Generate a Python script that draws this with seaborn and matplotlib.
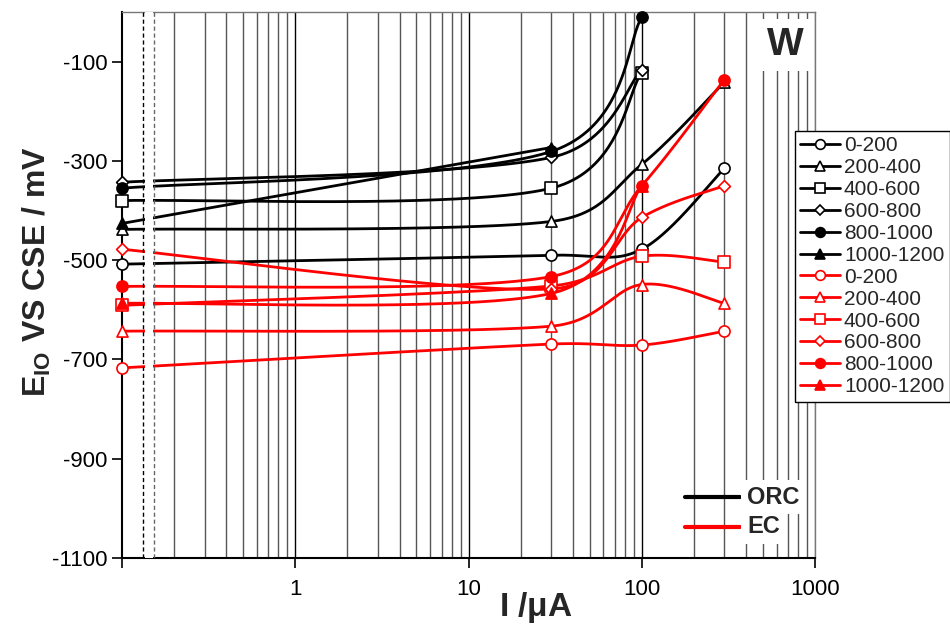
import numpy as np
import pandas as pd
import matplotlib
matplotlib.use("Agg")
import matplotlib.pyplot as plt
from matplotlib.lines import Line2D
from matplotlib.ticker import FixedLocator, NullFormatter, FixedFormatter
import seaborn as sns

# ---- data -------------------------------------------------------------
x_full = [0.1, 30, 100, 300]
ranges = ["0-200", "200-400", "400-600", "600-800", "800-1000", "1000-1200"]

orc_0_200 = [-508, -490, -478, -315]
orc_200_400 = [-438, -422, -307, -141]
orc_400_600 = [-380, -355, -122]
orc_600_800 = [-343, -293, -116]
orc_800_1000 = [-355, -281, -11]
orc_1000_1200 = [-426, -273]

ec_0_200 = [-717, -669, -671, -643]
ec_200_400 = [-643, -633, -549, -587]
ec_400_600 = [-591, -552, -492, -504]
ec_600_800 = [-478, -558, -414, -350]
ec_800_1000 = [-553, -533, -350, -136]
ec_1000_1200 = [-587, -567, -350]

orc = [orc_0_200, orc_200_400, orc_400_600, orc_600_800, orc_800_1000, orc_1000_1200]
ec = [ec_0_200, ec_200_400, ec_400_600, ec_600_800, ec_800_1000, ec_1000_1200]

y_ticks = [-1100, -900, -700, -500, -300, -100]
x_tick_vals = [1, 10, 100, 1000]
x_tick_labels = ["1", "10", "100", "1000"]

# marker shape / fill per range
markers = ["o", "^", "s", "D", "o", "^"]
filled = [False, False, False, False, True, True]
msizes = [8, 8, 8, 6, 8, 8]

# ---- style ------------------------------------------------------------
sns.set_theme(style="white")
plt.rcParams["font.family"] = ["Liberation Sans", "DejaVu Sans"]
plt.rcParams["mathtext.fontset"] = "custom"
plt.rcParams["mathtext.rm"] = "Liberation Sans"
plt.rcParams["mathtext.bf"] = "Liberation Sans:bold"

fig = plt.figure(figsize=(9.5, 6.29), dpi=100)
ax = fig.add_axes([122 / 950, 71 / 629, 693 / 950, 546 / 629])
ax.set_xscale("log")
ax.set_xlim(0.1, 1000)
ax.set_ylim(-1100, 0)

# vertical grid at every decade subdivision
for dec in [0.1, 1, 10, 100]:
    for k in range(1, 10):
        v = dec * k
        if v <= 0.1 + 1e-9:
            continue
        major = k == 1
        ax.axvline(v, color="black" if major else "#555555", lw=1.0, zorder=0.5)
ax.axvline(1000, color="#777777", lw=1.0, zorder=0.5)

# axis-break marks near the left edge
ax.axvspan(0.135, 0.150, color="white", lw=0, zorder=6.8)
ax.axvline(0.132, color="black", lw=1.0, ls=(0, (3, 2)), zorder=6.9)
ax.axvline(0.153, color="#666666", lw=1.0, ls=(0, (3, 2)), zorder=6.9)


def smooth_curve(xs, ys, n=80):
    """Bezier smoothing (tension 1/6, handles capped at half a segment),
    computed in display space."""
    pts = ax.transData.transform(np.column_stack([xs, ys]))
    m = len(pts)
    if m < 3:
        return list(xs), list(ys)
    out = []
    for i in range(m - 1):
        p0 = pts[i - 1] if i > 0 else pts[i]
        p1, p2 = pts[i], pts[i + 1]
        p3 = pts[i + 2] if i + 2 < m else pts[i + 1]
        d02 = np.hypot(*(p2 - p0))
        d12 = np.hypot(*(p2 - p1))
        d13 = np.hypot(*(p3 - p1))
        f0 = 1 / 6 if d02 / 6 < d12 / 2 else d12 / d02 / 2
        f1 = 1 / 6 if d13 / 6 < d12 / 2 else d12 / d13 / 2
        c1 = p1 + (p2 - p0) * f0
        c2 = p2 - (p3 - p1) * f1
        t = np.linspace(0, 1, n)[:, None]
        seg = ((1 - t) ** 3) * p1 + 3 * ((1 - t) ** 2) * t * c1 + 3 * (1 - t) * t ** 2 * c2 + t ** 3 * p2
        out.append(seg if i == 0 else seg[1:])
    dat = ax.transData.inverted().transform(np.vstack(out))
    return dat[:, 0], dat[:, 1]


def draw_group(series, color, z):
    for i, ys in enumerate(series):
        xs = x_full[: len(ys)]
        sx, sy = smooth_curve(xs, ys)
        df = pd.DataFrame({"x": sx, "y": sy})
        sns.lineplot(data=df, x="x", y="y", sort=False, estimator=None,
                     color=color, lw=2.0, ax=ax, zorder=z)
        sns.scatterplot(x=xs, y=ys, marker=markers[i], s=msizes[i] ** 2,
                        facecolor=color if filled[i] else "white",
                        edgecolor=color, linewidth=1.2, ax=ax, zorder=z + 0.5,
                        clip_on=False)


draw_group(orc, "black", 3)
draw_group(ec, "red", 5)

# ---- axes cosmetics ---------------------------------------------------
for s in ["left", "bottom"]:
    ax.spines[s].set_color("black")
    ax.spines[s].set_linewidth(1.5)
for s in ["top", "right"]:
    ax.spines[s].set_color("#777777")
    ax.spines[s].set_linewidth(1.0)

ax.xaxis.set_major_locator(FixedLocator([0.1] + x_tick_vals))
ax.xaxis.set_major_formatter(FixedFormatter([""] + x_tick_labels))
ax.xaxis.set_minor_locator(FixedLocator([]))
ax.xaxis.set_minor_formatter(NullFormatter())
ax.set_yticks(y_ticks)
ax.set_yticklabels([str(v) for v in y_ticks])
ax.tick_params(axis="both", which="major", direction="out", length=7, width=1.2,
               colors="black", labelsize=16, left=True, bottom=True)
ax.tick_params(axis="x", pad=8)

ax.set_xlabel(r"I /$\mathbf{\mu}$A", fontsize=24, fontweight="bold")
ax.xaxis.set_label_coords(0.597, -0.058)
ax.set_ylabel(r"E$_{\mathbf{IO}}$ VS CSE / mV", fontsize=23, fontweight="bold")
ax.yaxis.set_label_coords(-0.10, 0.525)

# panel letter
ax.text(0.957, 0.94, "W", transform=ax.transAxes, fontsize=28, fontweight="bold",
        ha="center", va="center", zorder=8,
        bbox=dict(facecolor="white", edgecolor="none", pad=6))

# series legend
handles = []
for color in ["black", "red"]:
    for i, lab in enumerate(ranges):
        handles.append(Line2D([], [], color=color, lw=2.0, marker=markers[i],
                              ms=msizes[i] - 1, mfc=color if filled[i] else "white",
                              mec=color, mew=1.2, label=lab))
leg = ax.legend(handles=handles, loc="upper left", bbox_to_anchor=(795 / 950, 1 - 131 / 629),
                bbox_transform=fig.transFigure, fontsize=15, frameon=True,
                fancybox=False, edgecolor="black", framealpha=1, borderpad=0.25,
                labelspacing=0.14, handlelength=1.9, handletextpad=0.2, borderaxespad=0)
leg.get_frame().set_linewidth(1.0)
leg.set_zorder(10)

# ORC / EC key
ax.plot([0.812, 0.892], [0.1117, 0.1117], transform=ax.transAxes, color="black", lw=3, zorder=7)
ax.plot([0.812, 0.892], [0.0568, 0.0568], transform=ax.transAxes, color="red", lw=3, zorder=7)
for yy, lab in [(0.1117, "ORC"), (0.0568, "EC")]:
    ax.text(0.902, yy, lab, transform=ax.transAxes, fontsize=17, fontweight="bold",
            ha="left", va="center", zorder=8,
            bbox=dict(facecolor="white", edgecolor="none", pad=4))

fig.savefig("out.png", dpi=100)
